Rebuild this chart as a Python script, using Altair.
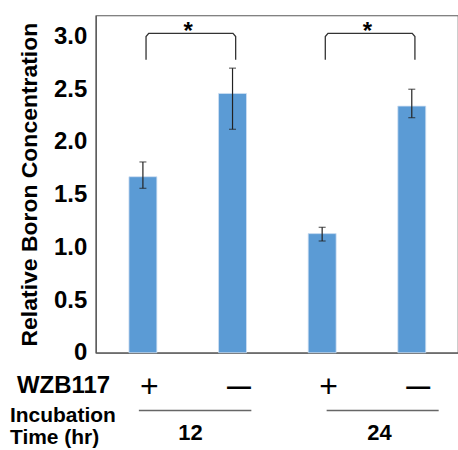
import json
import altair as alt
import pandas as pd

# ---- data ----
wzb117 = ["+", "—", "+", "—"]          # WZB117 treatment per bar
incubation = ["12", "12", "24", "24"]   # incubation time (hr) per bar
means = [1.67, 2.46, 1.13, 2.34]        # relative boron concentration
err_lo = [1.56, 2.12, 1.06, 2.23]       # lower end of error bar
err_hi = [1.81, 2.70, 1.19, 2.50]       # upper end of error bar
brackets = [(0, 1), (2, 3)]             # significant pairs (bar indices)
groups = ["12", "24"]
y_ticks = [0, 0.5, 1.0, 1.5, 2.0, 2.5, 3.0]

FONT = "Liberation Sans"
BLUE = "#5B9BD5"
DARK = "#595959"

df = pd.DataFrame({
    "pos": list(range(len(means))),
    "wzb": wzb117,
    "time": incubation,
    "mean": means,
    "lo": err_lo,
    "hi": err_hi,
})

xscale = alt.Scale(domain=[-0.47, 3.46], nice=False, zero=False)
yscale = alt.Scale(domain=[0, 3.2], nice=False)

label_js = json.dumps(wzb117)

x_axis = alt.Axis(
    values=list(range(len(means))),
    labelExpr=f"{label_js}[datum.value]",
    title=None, grid=False, ticks=False,
    domainColor=DARK, domainWidth=1.2,
    labelFont=FONT, labelColor="black",
    labelFontSize={"condition": {"test": "datum.value % 2 == 0", "value": 32}, "value": 24},
    labelFontWeight={"condition": {"test": "datum.value % 2 == 0", "value": "normal"}, "value": "bold"},
    labelOffset=6, labelPadding=34, labelBaseline="middle",
)
y_axis = alt.Axis(
    values=y_ticks,
    labelExpr="datum.value == 0 ? '0' : format(datum.value, '.1f')",
    title="Relative Boron Concentration",
    grid=False, ticks=False, domainColor=DARK, domainWidth=1.2,
    labelFont=FONT, labelFontSize=24, labelFontWeight="bold", labelColor="black",
    labelPadding=9,
    titleFont=FONT, titleFontSize=23, titleFontWeight="bold", titleColor="black",
    titlePadding=12,
)

base = alt.Chart(df)

bars = base.mark_bar(size=28, color=BLUE, stroke="#cfe0f2", strokeWidth=0.8).encode(
    x=alt.X("pos:Q", scale=xscale, axis=x_axis),
    y=alt.Y("mean:Q", scale=yscale, axis=y_axis),
)

err_rule = base.mark_rule(color="#222", strokeWidth=1.2).encode(
    x="pos:Q", y="lo:Q", y2="hi:Q"
)
caps = base.transform_fold(["lo", "hi"], as_=["k", "v"]).mark_tick(
    orient="horizontal", size=7, thickness=1.2, color="#222"
).encode(x="pos:Q", y="v:Q")

# significance brackets
LEG_BOTTOM, TOP, DX, CH = 2.78, 3.03, 0.035, 0.03
br_rows = []
star_rows = []
for b, (i, j) in enumerate(brackets):
    L, R = i + DX, j + DX
    pts = [(L, LEG_BOTTOM), (L, TOP - CH), (L + CH, TOP), (R - CH, TOP), (R, TOP - CH), (R, LEG_BOTTOM)]
    for o, (xx, yy) in enumerate(pts):
        br_rows.append({"b": b, "o": o, "x": xx, "y": yy})
    star_rows.append({"x": (L + R) / 2 - 0.03, "y": TOP, "t": "*"})
br_df = pd.DataFrame(br_rows)
star_df = pd.DataFrame(star_rows)

bracket_lines = alt.Chart(br_df).mark_line(color="#333", strokeWidth=1.3).encode(
    x="x:Q", y="y:Q", detail="b:N", order="o:Q"
)
stars = alt.Chart(star_df).mark_text(
    font=FONT, fontSize=24, fontWeight="bold", color="black", baseline="alphabetic", dy=6
).encode(x="x:Q", y="y:Q", text="t:N")

# incubation-time group lines and labels
g_df = pd.DataFrame({
    "g": groups,
    "x0": [-0.045, 2.05],
    "x1": [1.21, 3.30],
    "xm": [0.53, 2.64],
})
g_lines = alt.Chart(g_df).mark_rule(color="#666", strokeWidth=1.5).encode(
    x="x0:Q", x2="x1:Q", y=alt.value(396)
)
g_text = alt.Chart(g_df).mark_text(
    font=FONT, fontSize=22, fontWeight="bold", color="black", baseline="middle"
).encode(x="xm:Q", y=alt.value(418), text="g:N")

def left_text(t, x, y, size):
    return alt.Chart(pd.DataFrame({"t": [t]})).mark_text(
        font=FONT, fontSize=size, fontWeight="bold", color="black",
        align="left", baseline="middle"
    ).encode(x=alt.value(x), y=alt.value(y), text="t:N")

t_wzb = left_text("WZB117", -79, 371, 24)
t_inc = left_text("Incubation", -86, 401, 21)
t_time = left_text("Time (hr)", -86, 423, 21)

chart = alt.layer(
    bars, err_rule, caps, bracket_lines, stars, g_lines, g_text, t_wzb, t_inc, t_time
).properties(
    width=363, height=338,
    autosize=alt.AutoSizeParams(type="none"),
    padding={"left": 96, "top": 15, "right": 0, "bottom": 97},
    background="white",
).configure_view(stroke=DARK, strokeWidth=1.2)

chart.save("out.html", embed_options={"renderer": "svg", "actions": False})
